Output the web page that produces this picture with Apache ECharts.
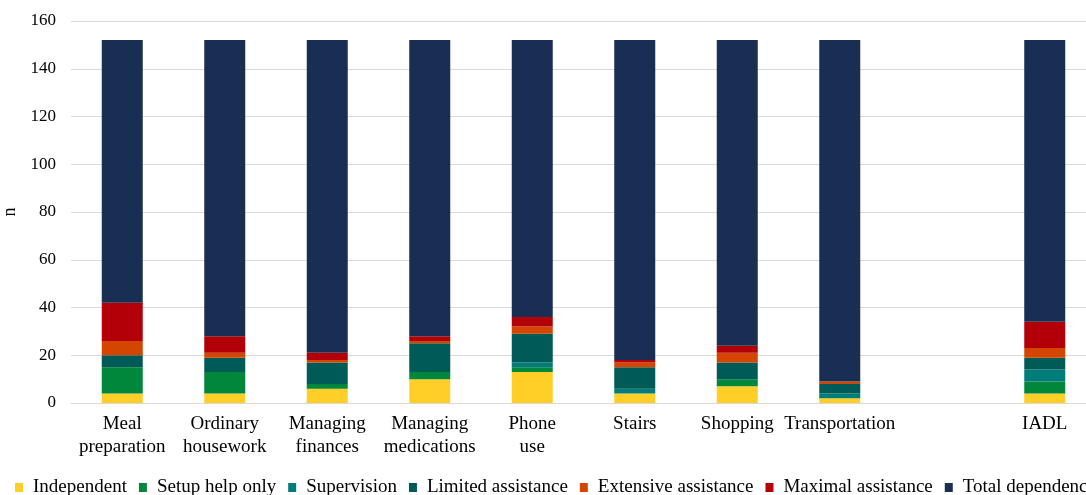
<!DOCTYPE html>
<html>
<head>
<meta charset="utf-8">
<script src="https://cdn.jsdelivr.net/npm/echarts@6/dist/echarts.min.js"></script>
<style>html,body{margin:0;padding:0;background:#fff;}#c{width:1086px;height:495px;}</style>
</head>
<body>
<div id="c"></div>
<script>
const categories = ['Meal\npreparation','Ordinary\nhousework','Managing\nfinances','Managing\nmedications','Phone\nuse','Stairs','Shopping','Transportation','','IADL'];
const yTicks = [0,20,40,60,80,100,120,140,160];
const independent = [4,4,6,10,13,4,7,2,null,4];
const setupHelpOnly = [11,9,2,3,2,0,3,0,null,5];
const supervision = [0,0,0,0,2,2,0,2,null,5];
const limitedAssistance = [5,6,9,12,12,9,7,4,null,5];
const extensiveAssistance = [6,2,1,1,3,2,4,1,null,4];
const maximalAssistance = [16,7,3,2,4,1,3,0,null,11];
const totalDependence = [110,124,131,124,116,134,128,143,null,118];

const seriesDefs = [
  ['Independent', independent, '#FFCF27'],
  ['Setup help only', setupHelpOnly, '#00873C'],
  ['Supervision', supervision, '#007C7A'],
  ['Limited assistance', limitedAssistance, '#005B57'],
  ['Extensive assistance', extensiveAssistance, '#D44500'],
  ['Maximal assistance', maximalAssistance, '#B30008'],
  ['Total dependence', totalDependence, '#182E52']
];
const font = '"Liberation Serif", "Times New Roman", serif';
const chart = echarts.init(document.getElementById('c'));
chart.setOption({
  animation: false,
  grid: {left: 71, width: 1025, top: 21, bottom: 92, containLabel: false, outerBoundsMode: 'none'},
  legend: {
    left: 15, bottom: -2, width: 1400, padding: 0, itemWidth: 8, itemHeight: 9, itemGap: 12,
    icon: 'rect',
    textStyle: {fontFamily: font, fontSize: 19, color: '#000', padding: [0,0,0,5]},
    data: seriesDefs.map(d => d[0])
  },
  xAxis: {
    type: 'category', data: categories,
    axisLine: {show: true, lineStyle: {color: '#d9d9d9'}},
    axisTick: {show: false},
    axisLabel: {interval: 0, fontFamily: font, fontSize: 19, color: '#000', lineHeight: 23, margin: 10}
  },
  yAxis: {
    type: 'value', min: 0, max: 160, interval: 20,
    name: 'n', nameLocation: 'middle', nameGap: 48, nameRotate: 90,
    nameTextStyle: {fontFamily: font, fontSize: 18, color: '#000'},
    axisLine: {show: false}, axisTick: {show: false},
    axisLabel: {fontFamily: font, fontSize: 17, color: '#000', margin: 15,
      formatter: v => yTicks.includes(v) ? String(v) : ''},
    splitLine: {lineStyle: {color: '#d9d9d9'}}
  },
  series: seriesDefs.map(d => ({
    name: d[0], type: 'bar', stack: 'a', data: d[1], barWidth: 41,
    itemStyle: {color: d[2]}
  }))
});
</script>
</body>
</html>
